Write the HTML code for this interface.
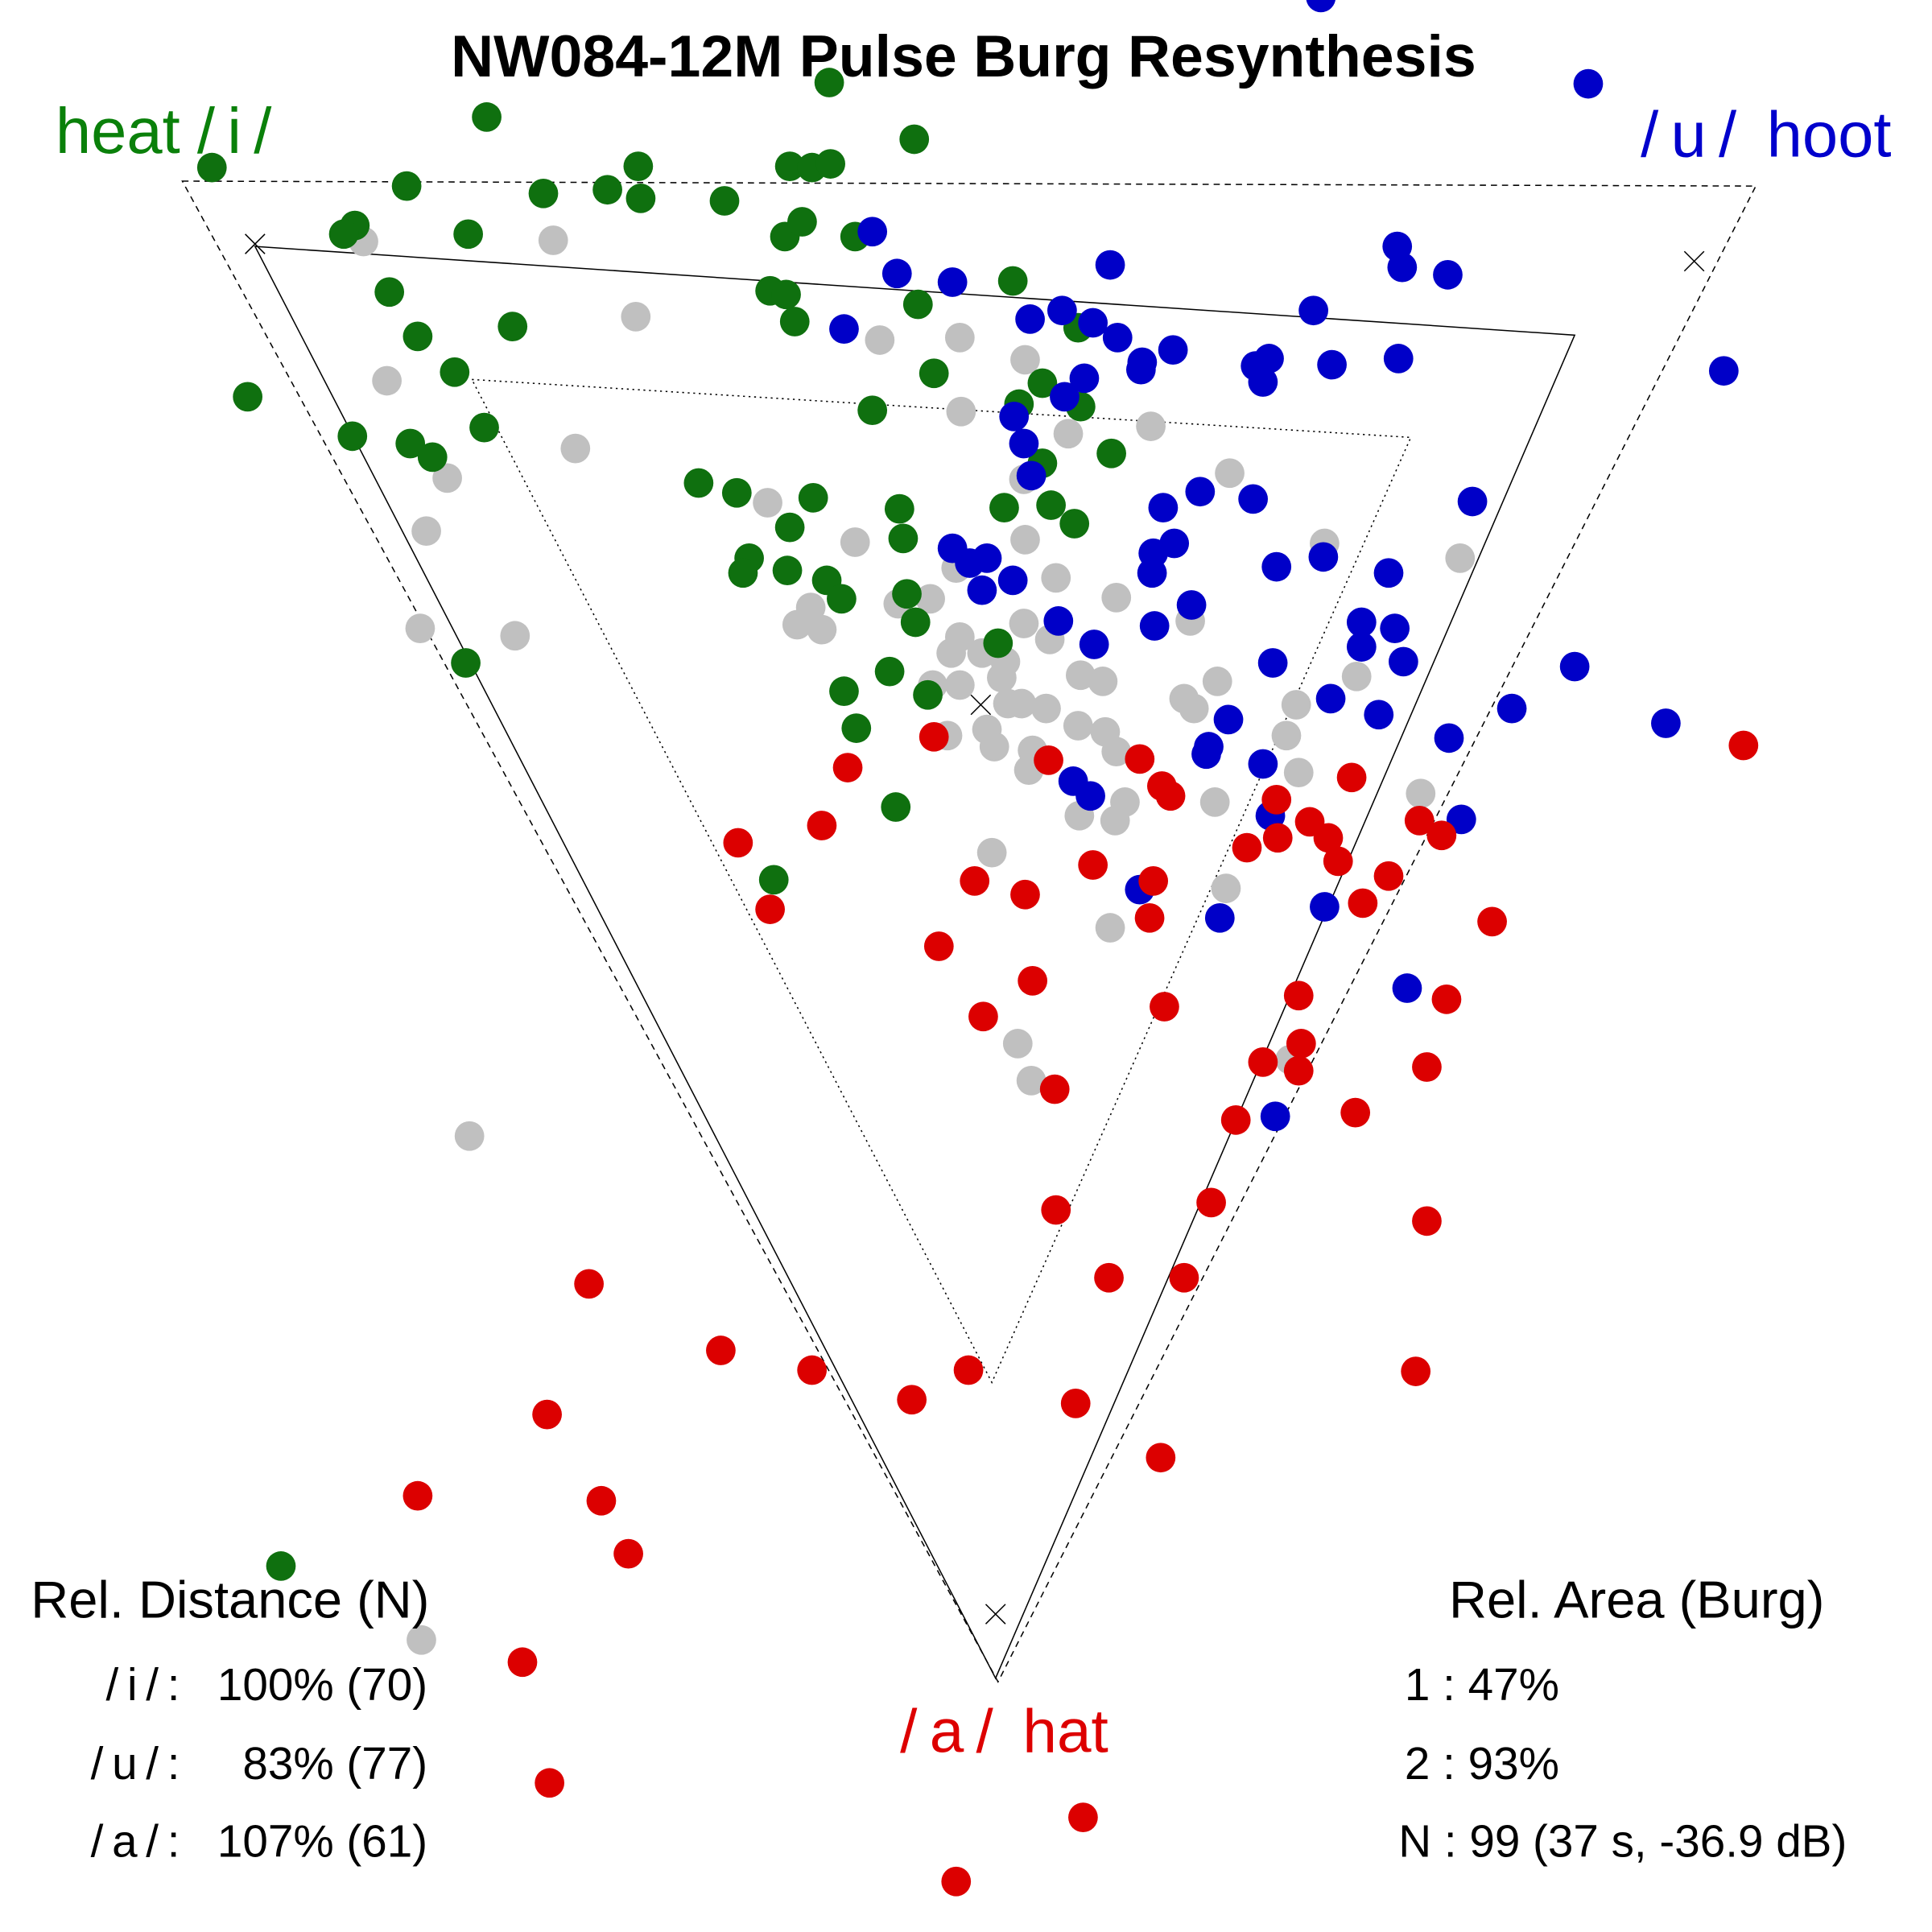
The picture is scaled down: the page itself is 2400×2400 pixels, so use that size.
<!DOCTYPE html>
<html><head><meta charset="utf-8"><style>html,body{margin:0;padding:0;background:#fff}svg{display:block}</style></head>
<body>
<svg xmlns="http://www.w3.org/2000/svg" width="2400" height="2400" viewBox="0 0 1568 1568" font-family="'Liberation Sans', sans-serif">
<rect width="1568" height="1568" fill="#fff"/>
<polygon points="148,147 1425,151 810,1365" fill="none" stroke="#000" stroke-width="1" stroke-dasharray="5,4"/>
<polygon points="207,200 1278,272 808,1362" fill="none" stroke="#000" stroke-width="1"/>
<polygon points="383,308 1145,355 805,1122" fill="none" stroke="#000" stroke-width="1" stroke-dasharray="1.5,3"/>
<g stroke="#000" stroke-width="1">
<path d="M199,190 l16,16 M215,190 l-16,16"/><path d="M1367,204 l16,16 M1383,204 l-16,16"/>
<path d="M788,564 l16,16 M804,564 l-16,16"/><path d="M800,1302 l16,16 M816,1302 l-16,16"/>
</g>
<g fill="#c0c0c0">
<circle cx="295" cy="196" r="12"/><circle cx="449" cy="195" r="12"/><circle cx="516" cy="257" r="12"/><circle cx="714" cy="276" r="12"/><circle cx="779" cy="274" r="12"/><circle cx="832" cy="292" r="12"/><circle cx="314" cy="309" r="12"/><circle cx="780" cy="334" r="12"/><circle cx="867" cy="352" r="12"/><circle cx="934" cy="346" r="12"/><circle cx="831" cy="389" r="12"/><circle cx="467" cy="364" r="12"/><circle cx="363" cy="388" r="12"/><circle cx="998" cy="384" r="12"/><circle cx="346" cy="431" r="12"/><circle cx="623" cy="408" r="12"/><circle cx="694" cy="440" r="12"/><circle cx="832" cy="438" r="12"/><circle cx="1075" cy="441" r="12"/><circle cx="1185" cy="453" r="12"/><circle cx="776" cy="461" r="12"/><circle cx="857" cy="469" r="12"/><circle cx="906" cy="485" r="12"/><circle cx="729" cy="490" r="12"/><circle cx="755" cy="486" r="12"/><circle cx="658" cy="493" r="12"/><circle cx="647" cy="507" r="12"/><circle cx="667" cy="511" r="12"/><circle cx="831" cy="506" r="12"/><circle cx="852" cy="519" r="12"/><circle cx="966" cy="504" r="12"/><circle cx="341" cy="510" r="12"/><circle cx="418" cy="516" r="12"/><circle cx="772" cy="530" r="12"/><circle cx="779" cy="517" r="12"/><circle cx="797" cy="530" r="12"/><circle cx="816" cy="537" r="12"/><circle cx="813" cy="550" r="12"/><circle cx="877" cy="548" r="12"/><circle cx="895" cy="553" r="12"/><circle cx="988" cy="553" r="12"/><circle cx="1101" cy="549" r="12"/><circle cx="757" cy="556" r="12"/><circle cx="779" cy="556" r="12"/><circle cx="961" cy="567" r="12"/><circle cx="969" cy="575" r="12"/><circle cx="1052" cy="572" r="12"/><circle cx="818" cy="571" r="12"/><circle cx="829" cy="571" r="12"/><circle cx="849" cy="575" r="12"/><circle cx="875" cy="589" r="12"/><circle cx="897" cy="594" r="12"/><circle cx="1044" cy="597" r="12"/><circle cx="801" cy="592" r="12"/><circle cx="807" cy="606" r="12"/><circle cx="769" cy="597" r="12"/><circle cx="838" cy="609" r="12"/><circle cx="906" cy="610" r="12"/><circle cx="835" cy="625" r="12"/><circle cx="1054" cy="627" r="12"/><circle cx="913" cy="651" r="12"/><circle cx="876" cy="662" r="12"/><circle cx="905" cy="666" r="12"/><circle cx="986" cy="651" r="12"/><circle cx="1153" cy="644" r="12"/><circle cx="805" cy="692" r="12"/><circle cx="995" cy="721" r="12"/><circle cx="901" cy="753" r="12"/><circle cx="826" cy="847" r="12"/><circle cx="837" cy="877" r="12"/><circle cx="1047" cy="860" r="12"/><circle cx="381" cy="922" r="12"/><circle cx="342" cy="1331" r="12"/>
</g>
<g fill="#0f700f">
<circle cx="172" cy="136" r="12"/><circle cx="395" cy="95" r="12"/><circle cx="673" cy="67" r="12"/><circle cx="742" cy="113" r="12"/><circle cx="330" cy="151" r="12"/><circle cx="518" cy="135" r="12"/><circle cx="441" cy="157" r="12"/><circle cx="493" cy="154" r="12"/><circle cx="520" cy="161" r="12"/><circle cx="588" cy="163" r="12"/><circle cx="641" cy="135" r="12"/><circle cx="659" cy="136" r="12"/><circle cx="674" cy="133" r="12"/><circle cx="288" cy="183" r="12"/><circle cx="279" cy="190" r="12"/><circle cx="380" cy="190" r="12"/><circle cx="637" cy="192" r="12"/><circle cx="651" cy="180" r="12"/><circle cx="694" cy="192" r="12"/><circle cx="822" cy="228" r="12"/><circle cx="316" cy="237" r="12"/><circle cx="625" cy="236" r="12"/><circle cx="638" cy="239" r="12"/><circle cx="745" cy="247" r="12"/><circle cx="645" cy="261" r="12"/><circle cx="416" cy="265" r="12"/><circle cx="339" cy="273" r="12"/><circle cx="875" cy="266" r="12"/><circle cx="369" cy="302" r="12"/><circle cx="758" cy="303" r="12"/><circle cx="201" cy="322" r="12"/><circle cx="846" cy="311" r="12"/><circle cx="827" cy="328" r="12"/><circle cx="877" cy="330" r="12"/><circle cx="708" cy="333" r="12"/><circle cx="393" cy="347" r="12"/><circle cx="286" cy="354" r="12"/><circle cx="333" cy="360" r="12"/><circle cx="351" cy="371" r="12"/><circle cx="902" cy="368" r="12"/><circle cx="846" cy="376" r="12"/><circle cx="567" cy="392" r="12"/><circle cx="598" cy="400" r="12"/><circle cx="660" cy="404" r="12"/><circle cx="730" cy="413" r="12"/><circle cx="815" cy="412" r="12"/><circle cx="853" cy="410" r="12"/><circle cx="872" cy="425" r="12"/><circle cx="641" cy="428" r="12"/><circle cx="733" cy="437" r="12"/><circle cx="608" cy="453" r="12"/><circle cx="603" cy="465" r="12"/><circle cx="639" cy="463" r="12"/><circle cx="671" cy="471" r="12"/><circle cx="683" cy="486" r="12"/><circle cx="736" cy="482" r="12"/><circle cx="743" cy="505" r="12"/><circle cx="810" cy="522" r="12"/><circle cx="378" cy="538" r="12"/><circle cx="722" cy="545" r="12"/><circle cx="685" cy="561" r="12"/><circle cx="753" cy="564" r="12"/><circle cx="695" cy="591" r="12"/><circle cx="727" cy="655" r="12"/><circle cx="628" cy="714" r="12"/><circle cx="228" cy="1271" r="12"/>
</g>
<g fill="#0000c8">
<circle cx="1072" cy="-2" r="12"/><circle cx="1289" cy="68" r="12"/><circle cx="708" cy="188" r="12"/><circle cx="901" cy="215" r="12"/><circle cx="1134" cy="200" r="12"/><circle cx="1138" cy="217" r="12"/><circle cx="1175" cy="223" r="12"/><circle cx="728" cy="222" r="12"/><circle cx="773" cy="229" r="12"/><circle cx="862" cy="252" r="12"/><circle cx="836" cy="259" r="12"/><circle cx="887" cy="262" r="12"/><circle cx="685" cy="267" r="12"/><circle cx="907" cy="274" r="12"/><circle cx="1066" cy="252" r="12"/><circle cx="952" cy="284" r="12"/><circle cx="927" cy="294" r="12"/><circle cx="926" cy="300" r="12"/><circle cx="1030" cy="291" r="12"/><circle cx="1019" cy="297" r="12"/><circle cx="1081" cy="296" r="12"/><circle cx="1135" cy="291" r="12"/><circle cx="1025" cy="310" r="12"/><circle cx="880" cy="307" r="12"/><circle cx="864" cy="322" r="12"/><circle cx="1399" cy="301" r="12"/><circle cx="823" cy="338" r="12"/><circle cx="831" cy="360" r="12"/><circle cx="837" cy="386" r="12"/><circle cx="974" cy="399" r="12"/><circle cx="944" cy="412" r="12"/><circle cx="1017" cy="405" r="12"/><circle cx="1195" cy="407" r="12"/><circle cx="953" cy="441" r="12"/><circle cx="936" cy="449" r="12"/><circle cx="773" cy="445" r="12"/><circle cx="801" cy="453" r="12"/><circle cx="787" cy="457" r="12"/><circle cx="935" cy="465" r="12"/><circle cx="822" cy="471" r="12"/><circle cx="1036" cy="460" r="12"/><circle cx="1074" cy="452" r="12"/><circle cx="1127" cy="465" r="12"/><circle cx="797" cy="479" r="12"/><circle cx="967" cy="491" r="12"/><circle cx="859" cy="504" r="12"/><circle cx="937" cy="508" r="12"/><circle cx="1105" cy="505" r="12"/><circle cx="1132" cy="510" r="12"/><circle cx="1105" cy="525" r="12"/><circle cx="888" cy="523" r="12"/><circle cx="1139" cy="537" r="12"/><circle cx="1033" cy="538" r="12"/><circle cx="1278" cy="541" r="12"/><circle cx="1080" cy="567" r="12"/><circle cx="1119" cy="580" r="12"/><circle cx="997" cy="584" r="12"/><circle cx="1227" cy="575" r="12"/><circle cx="1352" cy="587" r="12"/><circle cx="981" cy="606" r="12"/><circle cx="979" cy="612" r="12"/><circle cx="1176" cy="599" r="12"/><circle cx="1025" cy="620" r="12"/><circle cx="871" cy="634" r="12"/><circle cx="885" cy="646" r="12"/><circle cx="1031" cy="662" r="12"/><circle cx="1186" cy="665" r="12"/><circle cx="925" cy="722" r="12"/><circle cx="990" cy="745" r="12"/><circle cx="1075" cy="736" r="12"/><circle cx="1142" cy="802" r="12"/><circle cx="1035" cy="906" r="12"/>
</g>
<g fill="#dc0000">
<circle cx="1415" cy="605" r="12"/><circle cx="758" cy="598" r="12"/><circle cx="851" cy="617" r="12"/><circle cx="925" cy="616" r="12"/><circle cx="688" cy="623" r="12"/><circle cx="1097" cy="631" r="12"/><circle cx="943" cy="638" r="12"/><circle cx="950" cy="646" r="12"/><circle cx="1036" cy="649" r="12"/><circle cx="1063" cy="667" r="12"/><circle cx="1152" cy="666" r="12"/><circle cx="667" cy="670" r="12"/><circle cx="1078" cy="680" r="12"/><circle cx="1170" cy="678" r="12"/><circle cx="1037" cy="680" r="12"/><circle cx="1012" cy="688" r="12"/><circle cx="1086" cy="699" r="12"/><circle cx="599" cy="684" r="12"/><circle cx="887" cy="702" r="12"/><circle cx="936" cy="715" r="12"/><circle cx="1127" cy="711" r="12"/><circle cx="791" cy="715" r="12"/><circle cx="832" cy="726" r="12"/><circle cx="625" cy="738" r="12"/><circle cx="1106" cy="733" r="12"/><circle cx="933" cy="745" r="12"/><circle cx="1211" cy="748" r="12"/><circle cx="762" cy="768" r="12"/><circle cx="838" cy="796" r="12"/><circle cx="1054" cy="808" r="12"/><circle cx="945" cy="817" r="12"/><circle cx="1174" cy="811" r="12"/><circle cx="798" cy="825" r="12"/><circle cx="1056" cy="847" r="12"/><circle cx="1025" cy="862" r="12"/><circle cx="1054" cy="869" r="12"/><circle cx="1158" cy="866" r="12"/><circle cx="856" cy="884" r="12"/><circle cx="1100" cy="903" r="12"/><circle cx="1003" cy="909" r="12"/><circle cx="983" cy="976" r="12"/><circle cx="857" cy="982" r="12"/><circle cx="1158" cy="991" r="12"/><circle cx="478" cy="1042" r="12"/><circle cx="900" cy="1037" r="12"/><circle cx="961" cy="1037" r="12"/><circle cx="585" cy="1096" r="12"/><circle cx="659" cy="1112" r="12"/><circle cx="786" cy="1112" r="12"/><circle cx="740" cy="1136" r="12"/><circle cx="873" cy="1139" r="12"/><circle cx="1149" cy="1113" r="12"/><circle cx="444" cy="1148" r="12"/><circle cx="942" cy="1183" r="12"/><circle cx="339" cy="1214" r="12"/><circle cx="488" cy="1218" r="12"/><circle cx="510" cy="1261" r="12"/><circle cx="424" cy="1349" r="12"/><circle cx="446" cy="1447" r="12"/><circle cx="879" cy="1475" r="12"/><circle cx="776" cy="1527" r="12"/>
</g>
<text x="782" y="62" font-size="48" font-weight="bold" text-anchor="middle">NW084-12M Pulse Burg Resynthesis</text>
<text x="45" y="124" font-size="52" fill="#0a800a">heat<tspan x="160" letter-spacing="10">/i/</tspan></text>
<text x="1535" y="127" font-size="52" fill="#0000cc" text-anchor="end"><tspan letter-spacing="10">/u/</tspan> hoot</text>
<text x="815" y="1422" font-size="50" fill="#dd0000" text-anchor="middle"><tspan letter-spacing="10">/a/</tspan> hat</text>
<g font-size="42.5">
<text x="25" y="1313">Rel. Distance (N)</text>
<text x="1176" y="1313">Rel. Area (Burg)</text>
</g>
<g font-size="37">
<text x="153" y="1380" text-anchor="end" letter-spacing="7">/i/:</text><text x="347" y="1380" text-anchor="end">100% (70)</text>
<text x="153" y="1444" text-anchor="end" letter-spacing="7">/u/:</text><text x="347" y="1444" text-anchor="end">83% (77)</text>
<text x="153" y="1507" text-anchor="end" letter-spacing="7">/a/:</text><text x="347" y="1507" text-anchor="end">107% (61)</text>
<text x="1140" y="1380">1 : 47%</text>
<text x="1140" y="1444">2 : 93%</text>
<text x="1135" y="1507">N : 99 (37 s, -36.9 dB)</text>
</g>
</svg>
</body></html>
